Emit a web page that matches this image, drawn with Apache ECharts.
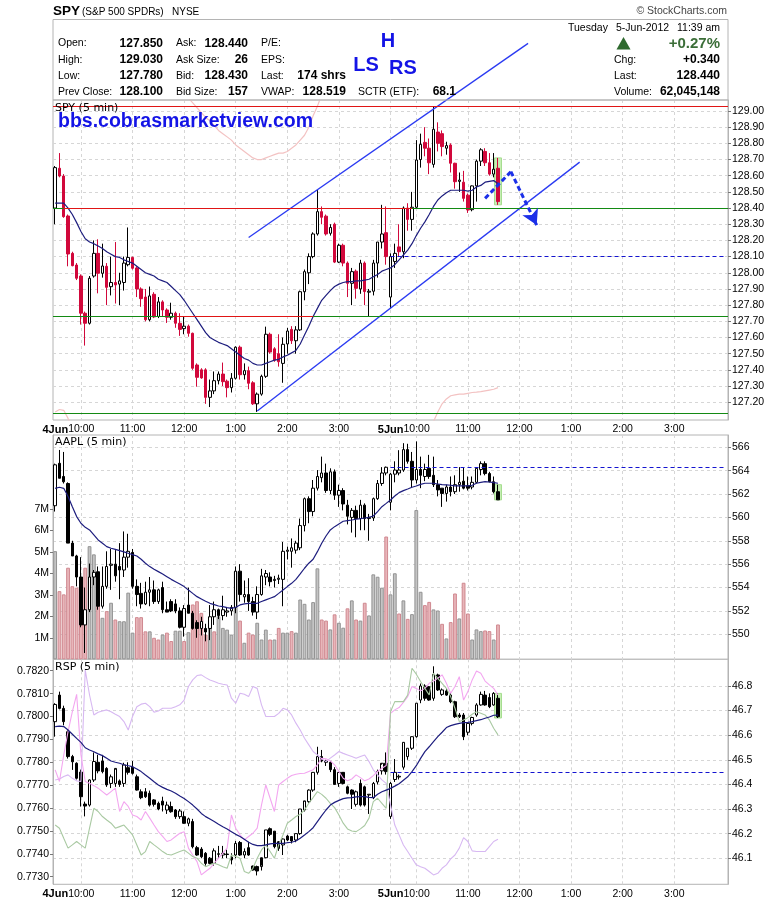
<!DOCTYPE html>
<html><head><meta charset="utf-8">
<script src="https://cdn.jsdelivr.net/npm/echarts@6/dist/echarts.min.js"></script>
<style>html,body{margin:0;padding:0;background:#fff}#c{width:780px;height:901px}</style>
</head><body><div id="c"></div>
<script>
// ---------- DATA ----------
// [open, high, low, close] per 5-min bar, 4 Jun 9:30 .. 5 Jun 11:35
const spyOHLC = [
[128.40,128.66,128.30,128.65],[128.646,128.74,128.59,128.598],[128.598,128.61,128.34,128.347],[128.351,128.36,128.04,128.116],[128.12,128.13,128.04,128.044],
[128.048,128.06,127.955,127.966],[127.98,127.99,127.68,127.75],[127.75,127.76,127.55,127.688],[127.688,127.98,127.68,127.966],[127.98,128.20,127.97,128.12],
[128.12,128.207,127.873,127.997],[127.997,128.18,127.97,128.042],[128.04,128.06,127.80,127.91],[127.914,128.10,127.86,127.94],[127.94,128.19,127.81,127.925],
[127.93,128.00,127.80,127.95],[127.94,128.10,127.89,128.06],[128.05,128.28,128.04,128.095],[128.095,128.10,128.02,128.028],[128.03,128.04,127.85,127.90],
[127.90,127.91,127.79,127.84],[127.85,127.90,127.70,127.71],[127.71,127.915,127.70,127.857],[127.867,127.88,127.72,127.727],[127.73,127.85,127.72,127.82],
[127.82,127.83,127.73,127.77],[127.77,127.78,127.69,127.725],[127.725,127.815,127.71,127.75],[127.75,127.76,127.66,127.688],[127.688,127.75,127.61,127.65],
[127.655,127.73,127.62,127.67],[127.67,127.68,127.605,127.626],[127.626,127.63,127.40,127.41],[127.43,127.44,127.296,127.354],[127.40,127.41,127.345,127.35],
[127.40,127.41,127.19,127.23],[127.23,127.34,127.17,127.27],[127.27,127.39,127.25,127.333],[127.333,127.39,127.31,127.374],[127.374,127.445,127.30,127.327],
[127.33,127.34,127.23,127.29],[127.29,127.38,127.26,127.348],[127.348,127.545,127.34,127.54],[127.54,127.55,127.34,127.37],[127.37,127.44,127.34,127.395],
[127.395,127.42,127.28,127.317],[127.32,127.33,127.183,127.19],[127.19,127.26,127.14,127.25],[127.25,127.37,127.24,127.36],[127.36,127.667,127.35,127.62],
[127.62,127.63,127.50,127.51],[127.53,127.54,127.45,127.46],[127.50,127.62,127.42,127.45],[127.44,127.60,127.32,127.558],[127.56,127.66,127.50,127.64],
[127.65,127.67,127.56,127.58],[127.58,127.67,127.50,127.647],[127.647,127.89,127.64,127.883],[127.883,128.02,127.83,128.007],[128.00,128.12,127.93,128.10],
[128.10,128.25,128.09,128.24],[128.24,128.512,128.23,128.378],[128.378,128.41,128.30,128.343],[128.35,128.36,128.23,128.24],[128.244,128.30,128.23,128.28],
[128.30,128.31,128.06,128.066],[128.066,128.18,128.06,128.17],[128.17,128.18,128.04,128.06],[128.06,128.07,127.85,127.935],[127.935,128.03,127.80,128.007],
[128.01,128.02,127.84,127.904],[127.90,128.08,127.87,128.06],[128.06,128.07,127.80,127.884],[127.88,127.90,127.73,127.886],[127.886,128.08,127.86,128.06],
[128.06,128.19,127.97,128.19],[128.19,128.42,128.15,128.24],[128.248,128.41,128.05,128.10],
[127.85,128.12,127.78,128.10],[128.07,128.18,128.03,128.12],[128.16,128.30,128.10,128.13],[128.13,128.41,128.09,128.40],[128.40,128.43,128.26,128.33],
[128.33,128.50,128.26,128.405],[128.405,128.82,128.40,128.697],[128.70,128.86,128.65,128.794],[128.806,128.90,128.72,128.77],[128.77,128.83,128.61,128.68],
[128.67,129.03,128.65,128.887],[128.87,128.93,128.75,128.80],[128.86,128.88,128.72,128.78],[128.77,128.81,128.73,128.786],[128.79,128.80,128.62,128.677],
[128.677,128.68,128.52,128.563],[128.565,128.62,128.50,128.573],[128.56,128.63,128.44,128.46],[128.48,128.49,128.37,128.388],[128.39,128.54,128.38,128.537],
[128.537,128.70,128.44,128.69],[128.69,128.77,128.66,128.76],[128.75,128.77,128.66,128.68],[128.68,128.74,128.60,128.61],[128.61,128.74,128.59,128.64],
[128.646,128.71,128.42,128.44]];
const spyMA = [128.43,128.43,128.43,128.40,128.36,128.31,128.255,128.21,128.19,128.18,
128.165,128.15,128.13,128.115,128.10,128.095,128.08,128.07,128.06,128.04,
128.02,128.00,127.99,127.98,127.96,127.95,127.94,127.915,127.89,127.865,
127.83,127.79,127.75,127.71,127.67,127.63,127.60,127.585,127.57,127.56,
127.55,127.53,127.51,127.49,127.47,127.46,127.44,127.43,127.43,127.44,
127.45,127.46,127.465,127.48,127.49,127.505,127.52,127.56,127.615,127.67,
127.73,127.78,127.83,127.86,127.89,127.915,127.93,127.94,127.945,127.945,
127.95,127.95,127.955,127.96,127.975,127.99,128.01,128.02,128.03,128.05,
128.08,128.11,128.14,128.18,128.23,128.275,128.315,128.36,128.41,128.45,
128.475,128.495,128.51,128.51,128.51,128.51,128.505,128.51,128.53,128.54,
128.56,128.565,128.57,128.55];
const spyGhost = [127.14,127.155,127.15,127.10,127.04,
null,null,null,null,null,null,null,null,null,null,null,null,null,null,null,null,null,null,null,null,null,null,null,null,null,
129.12,129.08,129.05,129.02,128.99,128.96,128.94,128.91,128.88,128.86,128.84,128.82,128.79,128.77,128.75,128.73,128.71,128.70,128.70,128.71,
128.72,128.73,128.74,128.74,128.75,128.77,128.79,128.82,128.85,128.90,128.97,129.03,129.10,
null,null,null,null,null,null,null,null,null,null,null,null,null,null,null,null,null,null,null,null,null,null,null,null,
127.02,127.08,127.14,127.19,127.22,127.24,127.245,127.25,127.25,127.255,127.26,127.262,127.265,127.27,127.275,127.28,127.29];
const spyPrevClose = 128.10;
const spyLevels = [129.03, 128.40, 127.73, 127.13];
const spyChannel = [[[45,128.2185],[110,129.418]],[[47,127.146],[122,128.684]]];
const spyArrow = [[100,128.46],[106,128.625],[112,128.295]];

const aaplOHLC = [
[561.0,564.6,560.5,564.5],[564.63,565.77,563.35,563.35],[563.5,565.6,562.9,563.05],[562.9,563.0,557.8,557.8],[557.8,558.0,556.7,556.7],
[556.7,556.8,554.1,554.9],[554.9,556.6,550.6,550.8],[550.8,554.0,548.4,552.1],[552.1,556.05,551.9,554.9],[554.9,555.5,554.2,555.3],
[555.35,555.8,552.1,552.4],[552.4,555.8,552.2,554.1],[554.1,557.1,553.9,555.8],[555.9,557.3,553.8,556.0],[556.0,557.2,554.5,555.0],
[555.8,557.8,553.0,555.5],[555.5,558.8,554.9,556.6],[556.6,558.6,555.7,557.1],[557.0,557.3,553.9,554.1],[554.1,554.7,552.4,553.4],
[553.5,554.4,552.2,552.6],[552.6,554.5,552.5,553.6],[553.6,554.9,552.4,553.8],[553.8,554.6,552.6,552.8],[552.8,553.9,552.6,553.8],
[554.0,554.5,551.8,552.1],[552.1,552.8,551.9,551.9],[552.8,553.0,551.9,552.0],[552.6,553.0,551.8,552.0],[552.0,552.3,550.5,550.6],
[550.6,552.5,549.8,552.2],[552.5,554.0,551.8,551.8],[551.8,552.0,550.4,550.5],[551.0,551.2,549.7,550.5],[550.5,551.5,549.9,551.1],
[550.5,550.9,549.4,550.2],[550.5,552.5,549.5,551.5],[551.5,552.8,550.8,552.1],[552.1,552.2,551.3,551.6],[551.6,553.3,551.2,552.1],
[551.9,552.3,551.5,552.0],[552.0,552.5,551.6,552.3],[552.3,555.8,551.8,555.4],[555.4,556.0,552.8,553.4],[553.2,554.6,552.7,553.4],
[553.4,554.8,552.0,552.8],[552.8,553.2,551.6,551.9],[551.9,554.1,551.3,553.4],[553.4,555.6,553.3,555.0],[554.9,555.5,554.2,555.2],
[554.9,555.3,554.1,554.5],[554.6,555.0,554.0,554.7],[554.7,555.1,554.3,554.8],[554.7,557.9,552.4,557.1],[557.1,557.5,556.4,557.2],
[557.1,558.2,555.7,557.4],[557.2,558.0,556.9,557.8],[557.4,559.9,557.2,559.3],[559.3,561.7,558.8,561.6],[561.6,561.8,559.5,560.5],
[560.5,563.2,560.1,562.5],[562.5,564.05,562.3,563.5],[563.4,565.2,563.0,563.8],[563.8,564.6,562.1,562.3],[562.3,564.2,562.0,563.9],
[563.9,564.1,561.5,561.9],[561.9,562.8,560.9,562.3],[562.3,562.5,560.6,561.15],[561.05,561.5,559.4,560.1],[560.0,560.8,558.7,560.6],
[560.6,561.0,558.3,559.9],[559.9,561.5,558.9,561.05],[561.05,561.2,558.9,559.9],[559.9,560.3,558.0,560.0],[559.95,561.7,559.7,561.6],
[561.6,563.2,561.5,562.9],[562.9,564.3,562.7,563.8],[563.8,564.35,563.6,564.29],
[561.3,563.8,560.6,563.7],[563.7,564.8,563.0,564.05],[563.8,565.75,563.6,564.05],[564.05,566.35,563.9,565.8],[565.8,566.3,564.6,564.8],
[564.8,565.6,562.6,563.2],[563.2,566.5,562.9,564.1],[564.1,565.2,562.5,563.6],[563.5,564.6,563.1,564.1],[564.2,565.35,563.3,563.5],
[563.6,565.2,562.6,562.8],[562.8,563.2,561.8,562.35],[562.5,562.5,560.9,562.05],[562.05,562.8,561.35,562.6],[562.6,563.5,561.8,562.2],
[562.2,563.6,562.0,562.8],[562.8,564.3,562.2,563.0],[563.1,564.3,562.4,562.5],[562.7,563.5,562.3,562.5],[562.6,563.5,562.4,563.0],
[563.0,564.3,562.9,564.2],[564.1,564.8,563.6,564.6],[564.6,564.8,563.6,563.75],[563.75,563.9,563.0,563.05],[563.05,563.5,562.05,562.2],
[562.2,562.8,561.5,561.5]];
const aaplMA = [562.49,562.58,562.49,561.78,560.92,560.07,559.5,559.15,558.93,558.5,
558.07,557.79,557.5,557.36,557.27,557.16,557.05,556.93,556.82,556.7,
556.42,556.08,555.79,555.56,555.36,555.16,554.93,554.7,554.5,554.3,
554.08,553.79,553.5,553.22,553.02,552.82,552.65,552.54,552.42,552.37,
552.28,552.22,552.31,552.51,552.6,552.65,552.65,552.65,552.8,552.94,
553.08,553.22,553.5,553.79,554.08,554.36,554.7,555.16,555.65,556.08,
556.42,557.07,557.79,558.41,558.93,559.21,559.44,559.67,559.73,559.78,
559.84,559.9,559.95,560.01,560.12,560.49,560.92,561.2,561.49,561.83,
562.12,562.29,562.43,562.58,562.69,562.83,562.92,562.92,562.92,562.86,
562.8,562.78,562.75,562.69,562.69,562.69,562.69,562.75,562.92,563.0,
563.06,563.03,562.97,562.92];
// volume in millions
const aaplVol = [5.03,3.17,3.02,4.26,3.4,3.33,3.8,4.26,5.26,4.88,
2.71,1.93,2.24,2.63,1.85,1.77,1.77,3.1,1.24,1.96,
1.96,1.3,1.3,1.0,0.92,1.15,1.24,0.85,1.33,1.33,
0.85,1.26,2.55,2.7,2.16,1.15,1.46,1.3,2.0,1.46,
1.38,1.15,4.1,1.8,0.77,1.24,1.15,1.7,0.92,1.38,
0.92,0.92,1.46,1.24,1.24,1.31,1.24,2.78,2.58,1.85,
2.66,4.23,1.85,1.8,1.39,2.09,1.7,1.47,2.37,2.74,
1.85,1.8,2.63,2.04,3.95,3.84,3.33,5.71,3.02,4.0,
2.13,2.74,1.88,2.1,6.94,3.14,2.52,2.67,2.32,2.27,
1.65,0.97,1.73,3.06,1.9,3.56,2.13,0.92,1.39,1.31,
1.34,1.31,0.92,1.62];
// 'u' = up volume bar (grey), 'd' = down volume bar (red)
const aaplVolDir = ('uddddddduu'+'dududuuuud'+'dduddudduu'+'dudddduduu'+'uuududduuu'+
  'duduuduuuu'+'uudduduudu'+'duduuuuduu'+'duduuudduu'+'duddudduuu'+'ddud').split('');
const aaplPrevClose = 564.29;

const rspOHLC = [
[46.655,46.73,46.594,46.725],[46.763,46.777,46.705,46.709],[46.709,46.72,46.64,46.655],[46.614,46.62,46.505,46.513],[46.513,46.52,46.459,46.492],
[46.486,46.49,46.42,46.425],[46.45,46.46,46.31,46.35],[46.32,46.33,46.27,46.312],[46.316,46.42,46.31,46.418],[46.418,46.53,46.41,46.493],
[46.49,46.52,46.445,46.455],[46.495,46.52,46.445,46.452],[46.465,46.47,46.39,46.398],[46.404,46.44,46.385,46.431],[46.404,46.46,46.39,46.465],
[46.414,46.42,46.39,46.40],[46.404,46.488,46.39,46.479],[46.468,46.49,46.44,46.449],[46.47,46.495,46.44,46.445],[46.431,46.44,46.375,46.377],
[46.37,46.38,46.34,46.346],[46.37,46.385,46.345,46.35],[46.364,46.375,46.31,46.316],[46.337,46.34,46.31,46.319],[46.323,46.33,46.295,46.30],
[46.332,46.35,46.29,46.316],[46.296,46.33,46.28,46.316],[46.31,46.33,46.285,46.289],[46.296,46.30,46.26,46.269],[46.269,46.30,46.26,46.292],
[46.269,46.29,46.24,46.242],[46.242,46.265,46.23,46.26],[46.249,46.26,46.14,46.147],[46.143,46.15,46.11,46.113],[46.137,46.145,46.10,46.106],
[46.12,46.125,46.07,46.079],[46.10,46.105,46.075,46.079],[46.079,46.14,46.07,46.13],[46.118,46.15,46.10,46.116],[46.113,46.15,46.10,46.12],
[46.117,46.135,46.10,46.115],[46.105,46.12,46.075,46.093],[46.113,46.17,46.10,46.16],[46.164,46.17,46.11,46.113],[46.113,46.14,46.10,46.127],
[46.143,46.167,46.11,46.113],[46.068,46.07,46.05,46.052],[46.066,46.07,46.03,46.048],[46.066,46.07,46.05,46.102],[46.102,46.215,46.10,46.215],
[46.22,46.225,46.19,46.197],[46.21,46.21,46.14,46.147],[46.167,46.17,46.13,46.14],[46.154,46.18,46.113,46.178],[46.19,46.195,46.17,46.174],
[46.188,46.19,46.16,46.17],[46.174,46.2,46.165,46.2],[46.2,46.30,46.195,46.30],[46.296,46.33,46.29,46.333],[46.33,46.38,46.325,46.377],
[46.377,46.45,46.37,46.449],[46.449,46.553,46.44,46.513],[46.513,46.54,46.49,46.495],[46.49,46.5,46.475,46.495],[46.49,46.495,46.45,46.46],
[46.46,46.47,46.4,46.40],[46.404,46.45,46.39,46.449],[46.449,46.45,46.40,46.404],[46.39,46.395,46.36,46.364],[46.377,46.38,46.30,46.36],
[46.319,46.375,46.31,46.37],[46.404,46.42,46.31,46.316],[46.39,46.395,46.31,46.316],[46.357,46.36,46.28,46.36],[46.346,46.41,46.34,46.404],
[46.41,46.46,46.40,46.452],[46.455,46.48,46.44,46.486],[46.486,46.53,46.44,46.452],
[46.27,46.41,46.26,46.404],[46.42,46.503,46.41,46.449],[46.43,46.44,46.42,46.433],[46.47,46.57,46.46,46.571],[46.513,46.547,46.50,46.547],
[46.547,46.595,46.54,46.594],[46.594,46.73,46.59,46.73],[46.743,46.81,46.73,46.80],[46.80,46.807,46.74,46.75],[46.797,46.80,46.74,46.743],
[46.75,46.88,46.74,46.847],[46.845,46.85,46.78,46.784],[46.766,46.79,46.76,46.784],[46.78,46.79,46.76,46.763],[46.763,46.77,46.73,46.736],
[46.736,46.74,46.67,46.675],[46.682,46.69,46.67,46.675],[46.682,46.69,46.58,46.594],[46.612,46.65,46.60,46.648],[46.648,46.675,46.64,46.672],
[46.682,46.73,46.675,46.723],[46.723,46.777,46.72,46.766],[46.763,46.78,46.72,46.723],[46.753,46.77,46.71,46.716],[46.723,46.775,46.72,46.77],
[46.75,46.77,46.67,46.675]];
const rspMA = [46.635,46.637,46.635,46.621,46.604,46.587,46.571,46.549,46.54,46.533,
46.524,46.517,46.506,46.495,46.49,46.486,46.48,46.476,46.472,46.463,
46.452,46.438,46.425,46.411,46.398,46.388,46.38,46.373,46.364,46.353,
46.343,46.33,46.316,46.30,46.282,46.269,46.259,46.249,46.238,46.228,
46.219,46.208,46.197,46.188,46.177,46.165,46.156,46.151,46.151,46.154,
46.158,46.16,46.16,46.16,46.163,46.165,46.17,46.181,46.194,46.208,
46.224,46.249,46.273,46.296,46.316,46.327,46.335,46.342,46.345,46.346,
46.349,46.35,46.35,46.347,46.346,46.36,46.37,46.377,46.384,46.393,
46.403,46.417,46.431,46.452,46.476,46.506,46.533,46.553,46.574,46.594,
46.612,46.631,46.639,46.644,46.648,46.651,46.652,46.655,46.659,46.663,
46.669,46.674,46.681,46.682];
const rspPrevClose = 46.45;
// comparison lines (left axis)
const rspLavender = [0.77723,0.77727,0.77738,0.77745,0.77730,0.77719,0.77716,0.78203,0.78094,0.78007,
0.78019,0.78024,0.78029,0.78021,0.78010,0.78000,0.77978,0.77941,0.78000,0.78043,
0.78054,0.78058,0.78043,0.78019,0.78024,0.78036,0.78036,0.78036,0.78043,0.78051,
0.78072,0.78131,0.78160,0.78179,0.78182,0.78170,0.78160,0.78153,0.78145,0.78141,
0.78138,0.78080,0.78058,0.78102,0.78097,0.78087,0.78131,0.78123,0.78051,0.78000,
0.78000,0.78000,0.78014,0.78036,0.78029,0.78007,0.77971,0.77941,0.77905,0.77876,
0.77847,0.77832,0.77815,0.77803,0.77818,0.77832,0.77847,0.77839,0.77832,0.77825,
0.77818,0.77825,0.77832,0.77803,0.77767,0.77745,0.77723,0.77708,0.77614,0.77526,
0.77483,0.77439,0.77410,0.77381,0.77352,0.77344,0.77337,0.77323,0.77308,0.77315,
0.77337,0.77352,0.77378,0.77395,0.77425,0.77471,0.77454,0.77413,0.77410,0.77410,
0.77410,0.77432,0.77454,0.77464];
const rspMagenta = [0.77767,0.77716,0.77832,0.77934,0.78021,0.78097,0.77832,0.77716,0.77708,0.77698,
0.77687,0.77672,0.77657,0.77672,0.77687,0.77585,0.77628,0.77607,0.77570,0.77563,
0.77548,0.77585,0.77556,0.77526,0.77497,0.77476,0.77454,0.77461,0.77476,0.77490,
0.77497,0.77425,0.77395,0.77366,0.77308,0.77323,0.77337,0.77359,0.77381,0.77403,
0.77425,0.77570,0.77512,0.77483,0.77461,0.77476,0.77490,0.77512,0.77614,0.77701,
0.77643,0.77585,0.77701,0.77716,0.77730,0.77742,0.77748,0.77751,0.77752,0.77760,
0.77767,0.77789,0.77818,0.77815,0.77806,0.77789,0.77760,0.77730,0.77719,0.77727,
0.77745,0.77733,0.77719,0.77727,0.77742,0.77760,0.77774,0.77786,0.78014,0.78029,
0.78039,0.78062,0.78087,0.78131,0.78123,0.78112,0.78123,0.78145,0.78155,0.78167,
0.78182,0.78145,0.78102,0.78131,0.78174,0.78072,0.78109,0.78160,0.78199,0.78189,
0.78155,0.78138,0.78123,0.78094];
const rspGreen = [0.77526,0.77512,0.77468,0.77425,0.77439,0.77454,0.77439,0.77425,0.77512,0.77599,
0.77585,0.77563,0.77548,0.77534,0.77512,0.77519,0.77526,0.77505,0.77483,0.77439,
0.77395,0.77410,0.77454,0.77439,0.77425,0.77410,0.77398,0.77395,0.77403,0.77410,
0.77417,0.77403,0.77388,0.77381,0.77359,0.77344,0.77352,0.77359,0.77352,0.77344,
0.77337,0.77395,0.77388,0.77381,0.77323,0.77315,0.77337,0.77381,0.77417,0.77439,
0.77410,0.77381,0.77439,0.77483,0.77534,0.77548,0.77563,0.77573,0.77592,0.77621,
0.77646,0.77672,0.77660,0.77643,0.77621,0.77602,0.77570,0.77534,0.77509,0.77500,
0.77497,0.77509,0.77524,0.77556,0.77628,0.77643,0.77621,0.77599,0.78021,0.78065,
0.78065,0.78065,0.78094,0.78211,0.78185,0.78153,0.78123,0.78094,0.78189,0.78167,
0.78145,0.78123,0.78087,0.78036,0.77978,0.77985,0.77995,0.78010,0.78021,0.78014,
0.78007,0.77985,0.77949,0.77920];

// axis ticks / labels
const spyTicks = [127.2,127.3,127.4,127.5,127.6,127.7,127.8,127.9,128.0,128.1,128.2,128.3,128.4,128.5,128.6,128.7,128.8,128.9,129.0];
const aaplTicks = [550,552,554,556,558,560,562,564,566];
const volTicks = [1,2,3,4,5,6,7];
const rspTicks = [46.1,46.2,46.3,46.4,46.5,46.6,46.7,46.8];
const rspLeftTicks = [0.7730,0.7740,0.7750,0.7760,0.7770,0.7780,0.7790,0.7800,0.7810,0.7820];
const xTickIndex = [6,18,30,42,54,66,84,96,108,120,132,144];
const xTickText = ['4Jun10:00','11:00','12:00','1:00','2:00','3:00','5Jun10:00','11:00','12:00','1:00','2:00','3:00'];
const xGridIndex = [6,18,30,42,54,66,78,84,96,108,120,132,144];
const days = ['4Jun','5Jun'];

// header texts
const headLabels1 = ['Open:','High:','Low:','Prev Close:'];
const headValues1 = ['127.850','129.030','127.780','128.100'];
const headLabels2 = ['Ask:','Ask Size:','Bid:','Bid Size:'];
const headValues2 = ['128.440','26','128.430','157'];
const headLabels3 = ['P/E:','EPS:','Last:','VWAP:'];
const headValues3 = ['','','174 shrs','128.519'];
const headLabelsR = ['','Chg:','Last:','Volume:'];
const headValuesR = ['+0.27%','+0.340','128.440','62,045,148'];

// ---------- BUILD ----------
const categories = [];
for (let d = 0; d < 2; d++) {
  for (let k = 0; k < 78; k++) {
    const m = 570 + 5 * k; let h = Math.floor(m / 60); const mm = m % 60;
    if (h > 12) h -= 12;
    categories.push(days[d] + ' ' + h + ':' + (mm < 10 ? '0' : '') + mm);
  }
}
categories.push(' ');

const FONT = '"Liberation Sans", Arial, sans-serif';
const FONT2 = '"DejaVu Sans", Verdana, sans-serif';
const GRIDC = '#d6d6d6';
const BORDER = '#b4b4b4';

const toCandle = rows => rows.map(r => [r[0], r[3], r[2], r[1]]);
const toHighlight = rows => rows.map((r, i) => i === rows.length - 1 ? [r[2], r[1], r[2], r[1]] : '-');

function xAxisFor(g, showLabels) {
  return {
    type: 'category', gridIndex: g, data: categories, boundaryGap: true,
    axisLine: { show: false }, axisTick: { show: false },
    axisLabel: {
      show: showLabels, interval: (i) => xTickIndex.includes(i), margin: 4,
      color: '#000', fontSize: 10.5, fontFamily: FONT,
      formatter: (v, i) => {
        const t = xTickText[xTickIndex.indexOf(i)] || '';
        if (/^\dJun/.test(t)) return '{b|' + t.slice(0, 4) + '}{n|' + t.slice(4) + '}{p|}';
        return '{n|' + t + '}';
      },
      rich: {
        b: { fontWeight: 'bold', fontSize: 11, fontFamily: FONT, color: '#000' },
        n: { fontSize: 10.5, fontFamily: FONT, color: '#000' },
        p: { width: 25 }
      }
    },
    splitLine: { show: true, alignWithLabel: true, interval: (i) => xGridIndex.includes(i), lineStyle: { color: GRIDC, type: [3, 3], width: 1 } }
  };
}
function yAxisFor(g, pos, min, max, ticks, fmt, split) {
  return {
    type: 'value', gridIndex: g, position: pos, min, max, scale: true,
    axisLine: { show: true, lineStyle: { color: BORDER } },
    axisTick: { show: true, length: 3, customValues: ticks, lineStyle: { color: '#777' } },
    axisLabel: { customValues: ticks, formatter: fmt, color: '#000', fontSize: 10.5, fontFamily: FONT, margin: 4 },
    splitLine: { show: split, lineStyle: { color: GRIDC, type: [3, 3], width: 1 } }
  };
}
const candleStyleSpy = { color: '#ffffff', color0: '#d1083b', borderColor: '#000000', borderColor0: '#d1083b', borderWidth: 1 };
const candleStyleBW = { color: '#ffffff', color0: '#000000', borderColor: '#000000', borderColor0: '#000000', borderWidth: 1 };
const hlStyle = { color: '#c6efb4', color0: '#c6efb4', borderColor: '#a6dd90', borderColor0: '#a6dd90', borderWidth: 1 };
const maStyle = { color: '#1d1d7e', width: 1.2 };
const noLabel = { show: false };

function T(x, y, text, o) {
  o = o || {};
  const font = (o.w || 'normal') + ' ' + (o.s || 10.5) + 'px ' + (o.f || FONT);
  return { type: 'text', x, y, z: 100, silent: true,
    style: { text, fill: o.c || '#000', font, align: o.a || 'left', textAlign: o.a || 'left', verticalAlign: 'middle', textVerticalAlign: 'middle' } };
}
const rowsY = [43.5, 60, 76, 92];
const graphics = [
  { type: 'rect', z: 90, silent: true, shape: { x: 53, y: 19.5, width: 675, height: 80.5 }, style: { fill: 'none', stroke: BORDER, lineWidth: 1 } },
  T(53, 11.5, 'SPY', { w: 'bold', s: 13.5 }),
  T(82, 12, '(S&P 500 SPDRs)', { s: 10 }),
  T(172, 12, 'NYSE', { s: 10 }),
  T(727, 11, '\u00A9 StockCharts.com', { s: 10.5, c: '#444', a: 'right' }),
  T(568, 28, 'Tuesday', {}), T(616, 28, '5-Jun-2012', {}), T(720, 28, '11:39 am', { a: 'right' }),
  { type: 'polygon', z: 100, silent: true, shape: { points: [[616.5, 49.5], [630.5, 49.5], [623.5, 37]] }, style: { fill: '#2f6a2f' } },
  T(720, 44, headValuesR[0], { w: 'bold', s: 15, c: '#3b6e38', a: 'right' }),
  T(58, 122, 'bbs.cobrasmarketview.com', { w: 'bold', s: 19.5, c: '#1414e6' }),
  T(388, 41, 'H', { w: 'bold', s: 20, c: '#1414e6', a: 'center' }),
  T(366, 65, 'LS', { w: 'bold', s: 20, c: '#1414e6', a: 'center' }),
  T(403, 68, 'RS', { w: 'bold', s: 20, c: '#1414e6', a: 'center' }),
  T(55, 108, 'SPY (5 min)', { s: 11, f: FONT2 }),
  T(55, 442.5, 'AAPL (5 min)', { s: 11, f: FONT2 }),
  T(55, 667.5, 'RSP (5 min)', { s: 11, f: FONT2 }),
  T(358, 92, 'SCTR (ETF):', {}), T(456, 92, '68.1', { w: 'bold', s: 12, a: 'right' })
];
for (let r = 0; r < 4; r++) {
  graphics.push(T(58, rowsY[r], headLabels1[r]));
  graphics.push(T(163, rowsY[r], headValues1[r], { w: 'bold', s: 12, a: 'right' }));
  graphics.push(T(176, rowsY[r], headLabels2[r]));
  graphics.push(T(248, rowsY[r], headValues2[r], { w: 'bold', s: 12, a: 'right' }));
  graphics.push(T(261, rowsY[r], headLabels3[r]));
  if (headValues3[r]) graphics.push(T(346, rowsY[r], headValues3[r], { w: 'bold', s: 12, a: 'right' }));
  if (r > 0) {
    graphics.push(T(614, rowsY[r], headLabelsR[r]));
    graphics.push(T(720, rowsY[r], headValuesR[r], { w: 'bold', s: 12, a: 'right' }));
  }
}

const lvlRed = { color: '#e01515', width: 1.2, type: 'solid' };
const lvlGreen = { color: '#138a13', width: 1.2, type: 'solid' };
const dashBlue = { color: '#1414d0', width: 1.2, type: [4, 3] };

const option = {
  animation: false,
  backgroundColor: '#ffffff',
  textStyle: { fontFamily: FONT },
  grid: [
    { left: 53, top: 100, width: 675, height: 320, show: true, borderColor: BORDER, borderWidth: 1, backgroundColor: '#fff' },
    { left: 53, top: 435, width: 675, height: 224.3, show: true, borderColor: BORDER, borderWidth: 1, backgroundColor: '#fff' },
    { left: 53, top: 659.3, width: 675, height: 225, show: true, borderColor: BORDER, borderWidth: 1, backgroundColor: '#fff' }
  ],
  xAxis: [xAxisFor(0, true), xAxisFor(1, false), xAxisFor(2, true)],
  yAxis: [
    yAxisFor(0, 'right', 127.09, 129.068, spyTicks, v => v.toFixed(2), true),
    yAxisFor(1, 'right', 547.86, 567.05, aaplTicks, v => String(Math.round(v)), true),
    yAxisFor(1, 'left', 0, 10.43, volTicks, v => Math.round(v) + 'M', false),
    yAxisFor(2, 'right', 45.994, 46.9085, rspTicks, v => v.toFixed(1), true),
    yAxisFor(2, 'left', 0.77267, 0.78250, rspLeftTicks, v => v.toFixed(4), false)
  ],
  graphic: graphics,
  series: [
    // ---- SPY panel ----
    { type: 'line', xAxisIndex: 0, yAxisIndex: 0, data: spyGhost, showSymbol: false, symbol: 'none', connectNulls: false,
      lineStyle: { color: '#f3c2c2', width: 1.2 }, silent: true },
    { type: 'line', xAxisIndex: 0, yAxisIndex: 0, data: spyMA, symbol: 'none', lineStyle: maStyle, silent: true,
      markLine: { silent: true, symbol: ['none', 'none'], label: noLabel, animation: false,
        data: [
          { yAxis: spyLevels[0], lineStyle: lvlRed },
          { yAxis: spyLevels[1], lineStyle: lvlGreen },
          [{ coord: [2, spyLevels[1]], lineStyle: lvlRed }, { coord: [83, spyLevels[1]] }],
          { yAxis: spyLevels[2], lineStyle: lvlGreen },
          [{ coord: [28, spyLevels[2]], lineStyle: lvlRed }, { coord: [60, spyLevels[2]] }],
          { yAxis: spyLevels[3], lineStyle: lvlGreen },
          [{ coord: [78, spyPrevClose], lineStyle: dashBlue }, { coord: [156, spyPrevClose] }]
        ] } },
    { type: 'candlestick', xAxisIndex: 0, yAxisIndex: 0, data: toHighlight(spyOHLC), barWidth: 7, itemStyle: hlStyle, silent: true },
    { type: 'candlestick', xAxisIndex: 0, yAxisIndex: 0, data: toCandle(spyOHLC), barWidth: 3, itemStyle: candleStyleSpy, silent: true },
    { type: 'line', xAxisIndex: 0, yAxisIndex: 0, data: spyChannel[0], symbol: 'none', clip: false, lineStyle: { color: '#2a3af2', width: 1.3 }, silent: true },
    { type: 'line', xAxisIndex: 0, yAxisIndex: 0, data: spyChannel[1], symbol: 'none', clip: false, lineStyle: { color: '#2a3af2', width: 1.3 }, silent: true },
    { type: 'line', xAxisIndex: 0, yAxisIndex: 0, data: spyArrow.slice(0, 2), symbol: 'none', clip: false,
      lineStyle: { color: '#1c30e8', width: 3, type: [5, 3] }, silent: true,
      markLine: { silent: true, symbol: ['none', 'arrow'], symbolSize: [13, 15], label: noLabel, animation: false,
        lineStyle: { color: '#1c30e8', width: 3, type: [5, 3] },
        data: [[{ coord: spyArrow[1] }, { coord: spyArrow[2] }]] } },
    // ---- AAPL panel ----
    { type: 'bar', xAxisIndex: 1, yAxisIndex: 2, barCategoryGap: '12%', silent: true,
      data: aaplVol.map((v, i) => ({ value: v, itemStyle: aaplVolDir[i] === 'd'
        ? { color: '#e8b6ba', borderColor: '#d08890', borderWidth: 1 }
        : { color: '#c4c4c4', borderColor: '#939393', borderWidth: 1 } })) },
    { type: 'line', xAxisIndex: 1, yAxisIndex: 1, data: aaplMA, symbol: 'none', lineStyle: maStyle, silent: true,
      markLine: { silent: true, symbol: ['none', 'none'], label: noLabel, animation: false,
        data: [[{ coord: [78, aaplPrevClose], lineStyle: dashBlue }, { coord: [156, aaplPrevClose] }]] } },
    { type: 'candlestick', xAxisIndex: 1, yAxisIndex: 1, data: toHighlight(aaplOHLC), barWidth: 7, itemStyle: hlStyle, silent: true },
    { type: 'candlestick', xAxisIndex: 1, yAxisIndex: 1, data: toCandle(aaplOHLC), barWidth: 3, itemStyle: candleStyleBW, silent: true },
    // ---- RSP panel ----
    { type: 'line', xAxisIndex: 2, yAxisIndex: 4, data: rspLavender, symbol: 'none', lineStyle: { color: '#d7b8f2', width: 1.1 }, silent: true },
    { type: 'line', xAxisIndex: 2, yAxisIndex: 4, data: rspMagenta, symbol: 'none', lineStyle: { color: '#f3a6f0', width: 1.1 }, silent: true },
    { type: 'line', xAxisIndex: 2, yAxisIndex: 4, data: rspGreen, symbol: 'none', lineStyle: { color: '#a9c9a2', width: 1.1 }, silent: true },
    { type: 'line', xAxisIndex: 2, yAxisIndex: 3, data: rspMA, symbol: 'none', lineStyle: maStyle, silent: true,
      markLine: { silent: true, symbol: ['none', 'none'], label: noLabel, animation: false,
        data: [[{ coord: [78, rspPrevClose], lineStyle: dashBlue }, { coord: [156, rspPrevClose] }]] } },
    { type: 'candlestick', xAxisIndex: 2, yAxisIndex: 3, data: toHighlight(rspOHLC), barWidth: 7, itemStyle: hlStyle, silent: true },
    { type: 'candlestick', xAxisIndex: 2, yAxisIndex: 3, data: toCandle(rspOHLC), barWidth: 3, itemStyle: candleStyleBW, silent: true }
  ]
};
const chart = echarts.init(document.getElementById('c'), null, { renderer: 'canvas' });
chart.setOption(option);
</script></body></html>
